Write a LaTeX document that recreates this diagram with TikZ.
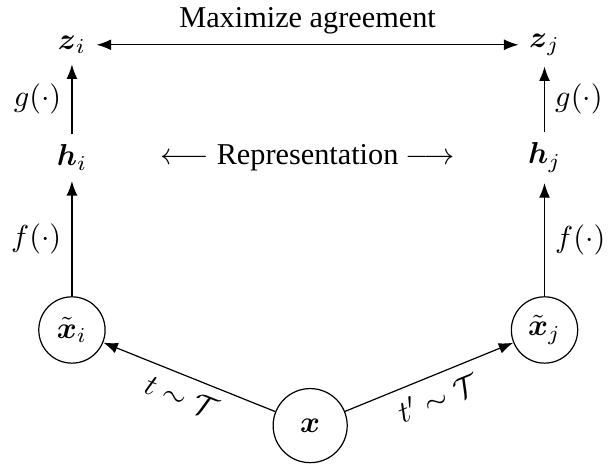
\documentclass[tikz,border=0pt]{standalone}
\usepackage{amsmath,amssymb}
\usepackage{fontspec}
\setmainfont{Liberation Serif}
\usetikzlibrary{arrows.meta, positioning}

\begin{document}
\begin{tikzpicture}[
    node distance=1cm,
    var/.style={
        inner sep=3.3pt
    },
    sample/.style={
        circle,
        draw,
        minimum size=0.77cm,
        inner sep=1pt
    },
    line/.style={
        draw,
        -Latex
    },
    twoway/.style={
        draw,
        Latex-Latex
    }
]
    \useasboundingbox (0,0) rectangle (7.08,5.43);

    % --- Nodes ---

    % Input and its two views
    \node [sample, minimum size=0.86cm] (x) at (3.60,0.49) {$\boldsymbol{x}$};
    \node [sample] (xi) at (0.835,1.60) {$\tilde{\boldsymbol{x}}_i$};
    \node [sample] (xj) at (6.32,1.60) {$\tilde{\boldsymbol{x}}_j$};

    % Representations
    \node [var] (hi) at (0.835,3.60) {$\boldsymbol{h}_i$};
    \node [var] (hj) at (6.32,3.60) {$\boldsymbol{h}_j$};

    % Projections
    \node [var] (zi) at (0.835,4.91) {$\boldsymbol{z}_i$};
    \node [var] (zj) at (6.32,4.91) {$\boldsymbol{z}_j$};

    % Middle text
    \node (rep) at (3.57,3.60) {$\longleftarrow$ Representation $\longrightarrow$};

    % --- Connections ---

    % Augmentations
    \draw [line] (x) -- node[below, sloped] {$t \sim \mathcal{T}$} (xi);
    \draw [line] (x) -- node[below, sloped] {$t' \sim \mathcal{T}$} (xj);

    % Encoder
    \draw [line] (xi) -- node[left] {$f(\cdot)$} (hi);
    \draw [line] (xj) -- node[right] {$f(\cdot)$} (hj);

    % Projection head
    \draw [line] (hi) -- node[left] {$g(\cdot)$} (zi);
    \draw [line] (hj) -- node[right] {$g(\cdot)$} (zj);

    % Contrastive objective
    \draw [twoway] (zi) -- node[above] {Maximize agreement} (zj);

\end{tikzpicture}
\end{document}
